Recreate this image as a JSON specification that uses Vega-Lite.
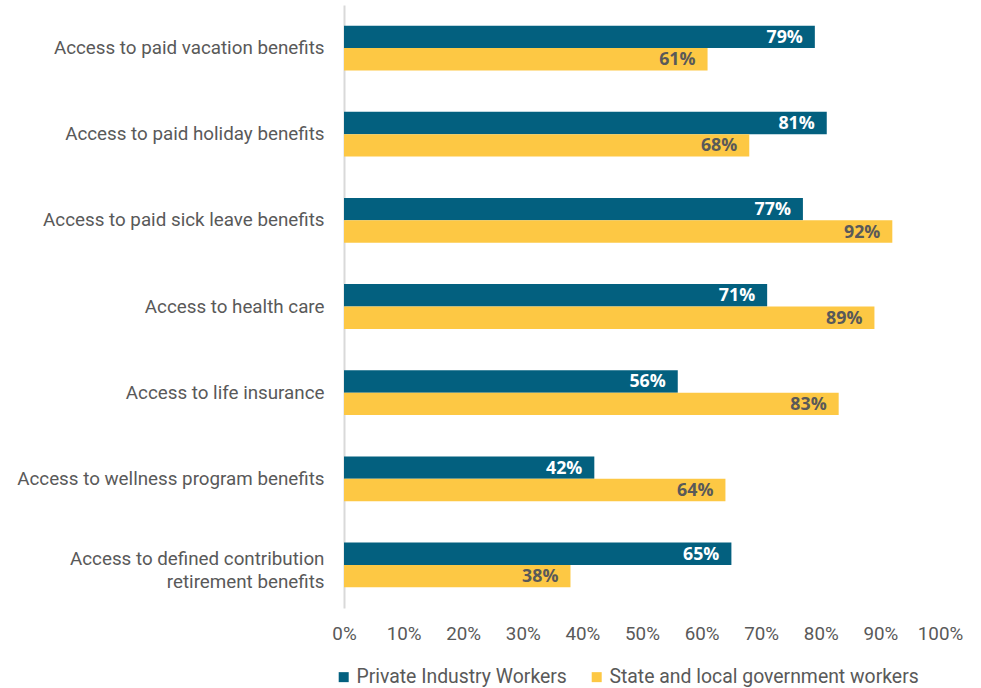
{
  "$schema": "https://vega.github.io/schema/vega-lite/v6.json",
  "autosize": "none",
  "padding": {"left": 344, "top": 5, "right": 41, "bottom": 80},
  "width": 596,
  "height": 603,
  "background": "white",
  "config": {"view": {"stroke": null}, "font": "Roboto"},
  "data": {"values": [
    {"benefit": "Access to paid vacation benefits", "series": "Private Industry Workers", "value": 0.79},
    {"benefit": "Access to paid vacation benefits", "series": "State and local government workers", "value": 0.61},
    {"benefit": "Access to paid holiday benefits", "series": "Private Industry Workers", "value": 0.81},
    {"benefit": "Access to paid holiday benefits", "series": "State and local government workers", "value": 0.68},
    {"benefit": "Access to paid sick leave benefits", "series": "Private Industry Workers", "value": 0.77},
    {"benefit": "Access to paid sick leave benefits", "series": "State and local government workers", "value": 0.92},
    {"benefit": "Access to health care", "series": "Private Industry Workers", "value": 0.71},
    {"benefit": "Access to health care", "series": "State and local government workers", "value": 0.89},
    {"benefit": "Access to life insurance", "series": "Private Industry Workers", "value": 0.56},
    {"benefit": "Access to life insurance", "series": "State and local government workers", "value": 0.83},
    {"benefit": "Access to wellness program benefits", "series": "Private Industry Workers", "value": 0.42},
    {"benefit": "Access to wellness program benefits", "series": "State and local government workers", "value": 0.64},
    {"benefit": "Access to defined contribution|retirement benefits", "series": "Private Industry Workers", "value": 0.65},
    {"benefit": "Access to defined contribution|retirement benefits", "series": "State and local government workers", "value": 0.38}
  ]},
  "encoding": {
    "y": {
      "field": "benefit", "type": "nominal", "sort": null,
      "scale": {"paddingInner": 0.48, "paddingOuter": 0.24},
      "axis": {
        "title": null, "ticks": false, "domainColor": "#d9d9d9", "domainWidth": 2,
        "labelFont": "Roboto", "labelFontSize": 18.8, "labelColor": "#595959",
        "labelPadding": 20, "labelLimit": 400, "labelLineHeight": 23,
        "labelOffset": {"expr": "indexof(datum.value, '|') >= 0 ? -6 : 0"},
        "labelExpr": "split(datum.label, '|')"
      }
    },
    "yOffset": {"field": "series", "type": "nominal", "sort": ["Private Industry Workers", "State and local government workers"], "scale": {"paddingInner": 0}},
    "x": {
      "field": "value", "type": "quantitative",
      "scale": {"domain": [0, 1]},
      "axis": {
        "title": null, "grid": false, "domain": false, "ticks": false,
        "values": [0, 0.1, 0.2, 0.3, 0.4, 0.5, 0.6, 0.7, 0.8, 0.9, 1],
        "format": ".0%", "labelFlush": false, "labelOverlap": false,
        "labelFont": "Roboto", "labelFontSize": 18.8, "labelColor": "#595959",
        "labelPadding": 16
      }
    }
  },
  "layer": [
    {
      "mark": {"type": "bar"},
      "encoding": {
        "color": {
          "field": "series", "type": "nominal",
          "scale": {"domain": ["Private Industry Workers", "State and local government workers"], "range": ["#03607F", "#FDC844"]},
          "legend": {
            "title": null, "orient": "none", "direction": "horizontal",
            "legendX": -10, "legendY": 662,
            "symbolType": "square", "symbolSize": 100, "symbolStrokeWidth": 0,
            "labelFont": "Roboto", "labelFontSize": 19.4, "labelColor": "#595959",
            "labelOffset": 3, "columnPadding": 20, "labelLimit": 500
          }
        }
      }
    },
    {
      "mark": {"type": "text", "align": "right", "baseline": "middle", "dx": -12, "dy": 1, "font": "Open Sans", "fontWeight": "bold", "fontSize": 17.8},
      "encoding": {
        "text": {"field": "value", "type": "quantitative", "format": ".0%"},
        "color": {
          "condition": {"test": "datum.series === 'Private Industry Workers'", "value": "#ffffff"},
          "value": "#595959"
        }
      }
    }
  ]
}
